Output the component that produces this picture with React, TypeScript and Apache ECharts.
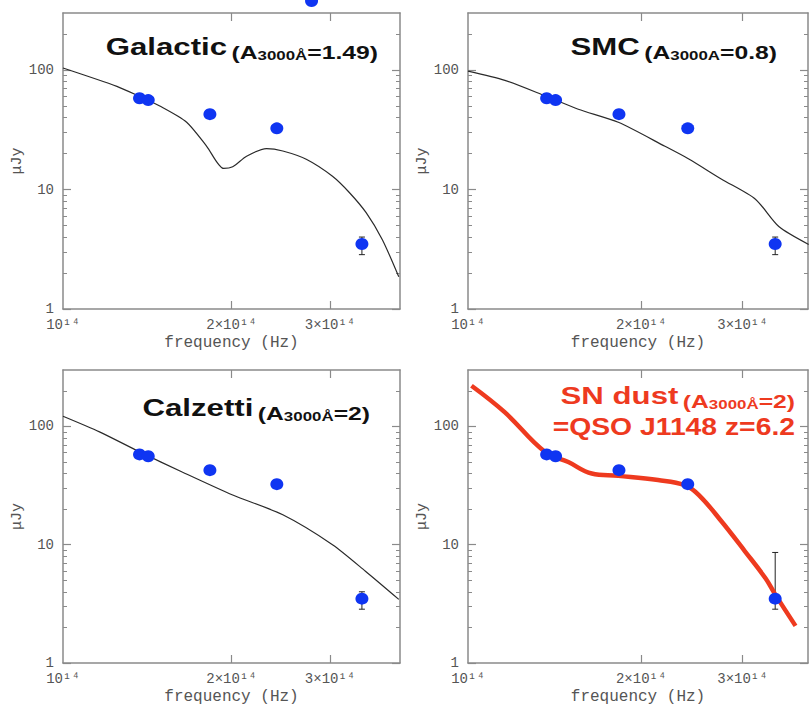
import React, { useEffect, useRef } from "react";
import * as echarts from "echarts";

// frequencies in units of 1e14 Hz, flux in μJy
const obsFreq = [1.37, 1.42, 1.83, 2.41, 3.42];
const obsFlux = [58, 56, 42.7, 32.5, 3.5];
const errFreq = 3.42;
const errLow = 2.85;
const errHigh = [4.0, 4.0, 4.0, 8.6];
const strayDot = [2.78, 378];

const galacticCurve = [
  [1.0, 104], [1.248, 73], [1.371, 60], [1.489, 50], [1.663, 36.6], [1.806, 23],
  [1.936, 15], [2.01, 15.5], [2.128, 19], [2.31, 22], [2.47, 21], [2.72, 17.9],
  [3.03, 12.9], [3.25, 9.4], [3.48, 6.4], [3.72, 3.8], [3.98, 1.86],
];
const smcCurve = [
  [1.0, 98], [1.159, 82], [1.36, 61], [1.555, 47], [1.825, 36.5], [2.2, 23],
  [2.42, 18], [2.76, 12.2], [3.16, 8.3], [3.47, 4.9], [3.91, 3.47],
];
const calzettiCurve = [
  [1.0, 122], [1.162, 90], [1.37, 61], [1.636, 41], [2.01, 26.3], [2.47, 17.9],
  [3.03, 10], [3.47, 5.97], [3.98, 3.45],
];
const snDustCurve = [
  [1.014, 221], [1.158, 132], [1.36, 61], [1.494, 50], [1.641, 40], [1.825, 38.2],
  [2.14, 35.2], [2.38, 31.9], [2.52, 26.3], [2.76, 15.7], [3.03, 8.8], [3.29, 5.2],
  [3.42, 3.8], [3.71, 2.06],
];

const xLabelValues = [1, 2, 3];
const xTickValues = [2, 3];
const yMajorValues = [1, 10, 100];
const yMinorValues = [2, 3, 4, 5, 6, 7, 8, 9, 20, 30, 40, 50, 60, 70, 80, 90, 200];

const titleTexts = [
  ["{big|Galactic} {mid|(A}{sub|3000Å}{mid|=1.49)}"],
  ["{big|SMC} {mid|(A}{sub|3000A}{mid|=0.8)}"],
  ["{big|Calzetti} {mid|(A}{sub|3000Å}{mid|=2)}"],
  ["{big|SN dust} {mid|(A}{sub|3000Å}{mid|=2)}", "{big|=QSO J1148 z=6.2}"],
];

const curves = [galacticCurve, smcCurve, calzettiCurve, snDustCurve];

const grids = [
  { left: 63, top: 13, width: 337, height: 296, xMax: 4 },
  { left: 468, top: 13, width: 340, height: 296, xMax: 3.9 },
  { left: 63, top: 370, width: 337, height: 297, xMax: 4 },
  { left: 468, top: 370, width: 340, height: 297, xMax: 3.9 },
];

const titlePos = [
  { x: 378, y: [47], sx: [1.3] },
  { x: 777, y: [47], sx: [1.3] },
  { x: 370, y: [408], sx: [1.3] },
  { x: 795, y: [396, 427], sx: [1.3, 1.18] },
];

const AXIS_COLOR = "#8a8a8a";
const LABEL_COLOR = "#555";
const LABEL_FONT = "Liberation Mono";

function fmtX(v: number) {
  const r = Math.round(v);
  return r === 1 ? "10¹⁴" : `${r}×10¹⁴`;
}

export default function App() {
  const ref = useRef<HTMLDivElement>(null);
  useEffect(() => {
    if (!ref.current) return;
    const chart = echarts.init(ref.current, null, { renderer: "svg" });
    const xAxis: any[] = [];
    const yAxis: any[] = [];
    const series: any[] = [];
    const graphic: any[] = [];

    grids.forEach((g, i) => {
      const xBase = {
        type: "log",
        logBase: 10,
        min: 1,
        max: g.xMax,
        gridIndex: i,
        splitLine: { show: false },
        axisLine: { show: true, lineStyle: { color: AXIS_COLOR, width: 1.5 } },
        axisTick: {
          show: true,
          inside: true,
          length: 8,
          customValues: xTickValues,
          lineStyle: { color: AXIS_COLOR, width: 1.2 },
        },
      };
      xAxis.push({
        ...xBase,
        position: "bottom",
        name: "frequency (Hz)",
        nameLocation: "middle",
        nameGap: 26,
        nameTextStyle: { fontFamily: LABEL_FONT, fontSize: 16, color: LABEL_COLOR },
        axisLabel: {
          show: true,
          customValues: xLabelValues,
          formatter: fmtX,
          fontFamily: LABEL_FONT,
          fontSize: 14,
          color: LABEL_COLOR,
          margin: 9,
        },
      });
      xAxis.push({ ...xBase, position: "top", axisLabel: { show: false } });

      const yBase = {
        type: "log",
        logBase: 10,
        min: 1,
        max: 300,
        gridIndex: i,
        splitLine: { show: false },
      };
      yAxis.push({
        ...yBase,
        position: "left",
        name: "μJy",
        nameLocation: "middle",
        nameGap: 30,
        nameTextStyle: { fontFamily: LABEL_FONT, fontSize: 15, color: LABEL_COLOR },
        axisLine: { show: true, lineStyle: { color: AXIS_COLOR, width: 1.5 } },
        axisTick: {
          show: true,
          inside: true,
          length: 8,
          customValues: yMajorValues,
          lineStyle: { color: AXIS_COLOR, width: 1.2 },
        },
        axisLabel: {
          show: true,
          customValues: yMajorValues,
          fontFamily: LABEL_FONT,
          fontSize: 14,
          color: LABEL_COLOR,
          margin: 9,
        },
      });
      yAxis.push({
        ...yBase,
        position: "left",
        axisLine: { show: false },
        axisTick: {
          show: true,
          inside: true,
          length: 4,
          customValues: yMinorValues,
          lineStyle: { color: AXIS_COLOR, width: 1 },
        },
        axisLabel: { show: false },
      });
      yAxis.push({
        ...yBase,
        position: "right",
        axisLine: { show: true, lineStyle: { color: AXIS_COLOR, width: 1.5 } },
        axisTick: {
          show: true,
          inside: true,
          length: 8,
          customValues: yMajorValues,
          lineStyle: { color: AXIS_COLOR, width: 1.2 },
        },
        axisLabel: { show: false },
      });
      yAxis.push({
        ...yBase,
        position: "right",
        axisLine: { show: false },
        axisTick: {
          show: true,
          inside: true,
          length: 4,
          customValues: yMinorValues,
          lineStyle: { color: AXIS_COLOR, width: 1 },
        },
        axisLabel: { show: false },
      });

      const isSN = i === 3;
      series.push({
        type: "line",
        xAxisIndex: 2 * i,
        yAxisIndex: 4 * i,
        data: curves[i],
        showSymbol: false,
        smooth: isSN ? 0.4 : 0.25,
        lineStyle: { color: isSN ? "#ee3a1f" : "#2a2a2a", width: isSN ? 4.5 : 1.2 },
        z: isSN ? 3 : 2,
      });
      series.push({
        type: "custom",
        xAxisIndex: 2 * i,
        yAxisIndex: 4 * i,
        data: [[errFreq, errLow, errHigh[i]]],
        encode: { x: 0, y: [1, 2] },
        z: 2,
        renderItem: (params: any, api: any) => {
          const x = api.value(0);
          const lo = api.coord([x, api.value(1)]);
          const hi = api.coord([x, api.value(2)]);
          const st = { stroke: "#222", lineWidth: 1 };
          return {
            type: "group",
            children: [
              { type: "line", shape: { x1: lo[0], y1: lo[1], x2: hi[0], y2: hi[1] }, style: st },
              { type: "line", shape: { x1: hi[0] - 3, y1: hi[1], x2: hi[0] + 3, y2: hi[1] }, style: st },
              { type: "line", shape: { x1: lo[0] - 3, y1: lo[1], x2: lo[0] + 3, y2: lo[1] }, style: st },
            ],
          };
        },
      });
      series.push({
        type: "scatter",
        xAxisIndex: 2 * i,
        yAxisIndex: 4 * i,
        data: obsFreq.map((f, k) => [f, obsFlux[k]]),
        symbol: "circle",
        symbolSize: [13, 12],
        itemStyle: { color: "#0f35f2", opacity: 1 },
        z: 5,
      });
      if (i === 0) {
        series.push({
          type: "scatter",
          xAxisIndex: 0,
          yAxisIndex: 0,
          data: [strayDot],
          clip: false,
          symbolSize: [13, 12],
          itemStyle: { color: "#0f35f2", opacity: 1 },
          z: 5,
        });
      }

      const color = isSN ? "#ee3a1f" : "#111";
      titleTexts[i].forEach((t, li) => {
        graphic.push({
          type: "text",
          x: titlePos[i].x,
          y: titlePos[i].y[li],
          scaleX: titlePos[i].sx[li],
          z: 10,
          style: {
            text: t,
            align: "right",
            verticalAlign: "middle",
            fill: color,
            fontFamily: "Liberation Sans",
            fontWeight: "bold",
            rich: {
              big: { fontSize: 24, fontWeight: "bold", fontFamily: "Liberation Sans", fill: color, lineHeight: 30, verticalAlign: "middle" },
              mid: { fontSize: 19, fontWeight: "bold", fontFamily: "Liberation Sans", fill: color, lineHeight: 26, verticalAlign: "bottom" },
              sub: { fontSize: 13, fontWeight: "bold", fontFamily: "Liberation Sans", fill: color, lineHeight: 10, verticalAlign: "bottom" },
            },
          },
        });
      });
    });

    chart.setOption({
      animation: false,
      backgroundColor: "#ffffff",
      grid: grids.map((g) => ({ left: g.left, top: g.top, width: g.width, height: g.height })),
      xAxis,
      yAxis,
      series,
      graphic,
    });
    return () => chart.dispose();
  }, []);
  return (
    <div
      ref={ref}
      style={{ position: "absolute", left: 0, top: 0, width: 811, height: 706, background: "#fff" }}
    />
  );
}
